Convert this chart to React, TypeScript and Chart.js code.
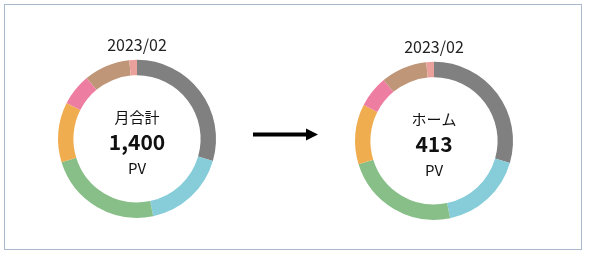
import React, { useEffect, useRef } from "react";
import { Chart, registerables } from "chart.js";

Chart.register(...registerables);

const period = "2023/02";
const pages = ["ホーム", "商品一覧", "商品詳細", "会社概要", "お知らせ", "お問い合わせ", "その他"];
const pageViews = [413, 241, 329, 172, 91, 132, 22];
const sliceColors = ["#808080", "#86cdd9", "#88bf88", "#f0ad4f", "#ee7ea1", "#bf9678", "#eba19b"];
const unitLabel = "PV";

const FONT = '"Noto Sans CJK JP", "Noto Sans", sans-serif';

type CenterText = { caption: string; value: string };

function Donut({ left, top, center }: { left: number; top: number; center: CenterText }) {
  const ref = useRef<HTMLCanvasElement | null>(null);

  useEffect(() => {
    if (!ref.current) return;
    // caption, total and unit stacked in the hole of the ring
    const centerPlugin = {
      id: "centerText",
      afterDraw(chart: Chart) {
        const { ctx, chartArea } = chart;
        const cx = (chartArea.left + chartArea.right) / 2;
        const cy = (chartArea.top + chartArea.bottom) / 2;
        ctx.save();
        ctx.fillStyle = "#111";
        ctx.textAlign = "center";
        ctx.textBaseline = "middle";
        ctx.font = `15px ${FONT}`;
        ctx.fillText(center.caption, cx, cy - 22);
        ctx.font = `bold 21px ${FONT}`;
        ctx.fillText(center.value, cx, cy + 3);
        ctx.font = `15px ${FONT}`;
        ctx.fillText(unitLabel, cx, cy + 29);
        ctx.restore();
      },
    };
    const chart = new Chart(ref.current, {
      type: "doughnut",
      data: {
        labels: pages,
        datasets: [
          {
            data: pageViews,
            backgroundColor: sliceColors,
            borderWidth: 0,
            radius: 79,
            cutout: "80.5%",
          },
        ],
      },
      options: {
        animation: false,
        responsive: false,
        maintainAspectRatio: false,
        plugins: {
          legend: { display: false },
          tooltip: { enabled: false },
          title: {
            display: true,
            text: period,
            color: "#222",
            font: { family: FONT, size: 16, weight: "normal", lineHeight: 1.2 },
            padding: { top: 5, bottom: 3.5 },
          },
        },
      },
      plugins: [centerPlugin],
    });
    return () => chart.destroy();
  }, []);

  return (
    <canvas
      ref={ref}
      width={200}
      height={190}
      style={{ position: "absolute", left, top, width: 200, height: 190 }}
    />
  );
}

export default function App() {
  return (
    <div style={{ position: "fixed", left: 0, top: 0, width: 590, height: 259, background: "#fff" }}>
      <div
        style={{
          position: "absolute",
          left: 4,
          top: 4,
          width: 576,
          height: 244,
          border: "1px solid #a9b8cb",
        }}
      />
      <Donut left={37} top={30} center={{ caption: "月合計", value: "1,400" }} />
      <svg
        width={80}
        height={30}
        style={{ position: "absolute", left: 245, top: 120 }}
      >
        <line x1={8} y1={14.5} x2={64} y2={14.5} stroke="#000" strokeWidth={4} />
        <polygon points="61,8.5 73,14.5 61,20.5" fill="#000" />
      </svg>
      <Donut left={334} top={32} center={{ caption: "ホーム", value: "413" }} />
    </div>
  );
}
